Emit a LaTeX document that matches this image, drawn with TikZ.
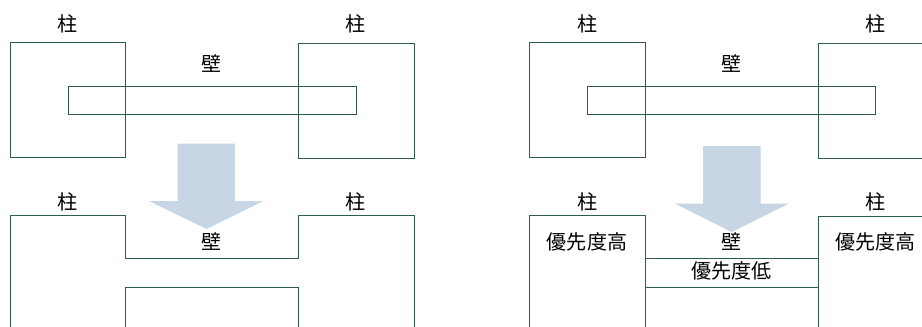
\documentclass[tikz,border=0pt]{standalone}
\usepackage{fontspec}
\newfontfamily\jpfont{Noto Sans CJK JP}
\definecolor{wallgreen}{HTML}{2F5D46}
\definecolor{arrowblue}{HTML}{C8D5E5}
\tikzset{
  outline/.style={draw=wallgreen,line width=0.55pt},
  bigarrow/.style={fill=arrowblue},
  lbl/.style={font=\jpfont\fontsize{11.4pt}{12pt}\selectfont}
}
\begin{document}
\begin{tikzpicture}[x=0.02cm,y=0.02cm]
\tikzstyle{every node}+=[inner sep=0pt]
\useasboundingbox (0,0) rectangle (922,-326);
\clip (0,0) rectangle (922,-326);
% left, before
\draw [outline] (10,-42.5) rectangle (125.5,-157);
\draw [outline] (298.5,-43.5) rectangle (414,-158);
\draw [outline] (68,-86) rectangle (356,-114);
\node [lbl] (pillarA) at (67.5,-24) {柱};
\node [lbl] (pillarB) at (356,-24) {柱};
\node [lbl] (wallA) at (212,-64) {壁};
% left, after
\draw [outline] (10,-330) -- (10,-215.5) -- (125.5,-215.5) -- (125.5,-258.5) -- (298.5,-258.5) -- (298.5,-215.5) -- (414,-215.5) -- (414,-330);
\draw [outline] (125.5,-330) -- (125.5,-287) -- (298.5,-287) -- (298.5,-330);
\fill [bigarrow] (177.5,-143.5) -- (235,-143.5) -- (235,-201) -- (263.5,-201) -- (206.5,-229) -- (149,-201) -- (177.5,-201) -- cycle;
\node [lbl] (pillarC) at (67.5,-202) {柱};
\node [lbl] (pillarD) at (356,-202) {柱};
\node [lbl] (wallB) at (212,-242) {壁};
% right, before
\draw [outline] (529.5,-42.5) rectangle (645,-157);
\draw [outline] (818,-43.5) rectangle (933.5,-158);
\draw [outline] (587.5,-86) rectangle (875.5,-114);
\node [lbl] (pillarE) at (587.5,-24) {柱};
\node [lbl] (pillarF) at (875.5,-24) {柱};
\node [lbl] (wallC) at (731.5,-64) {壁};
% right, after
\draw [outline] (529.5,-215.5) rectangle (645,-330);
\draw [outline] (818,-216.5) rectangle (933.5,-330);
\draw [outline] (645,-258.5) rectangle (818,-287);
\fill [bigarrow] (703,-146) -- (760.5,-146) -- (760.5,-203.5) -- (789,-203.5) -- (731.7,-232) -- (674.5,-203.5) -- (703,-203.5) -- cycle;
\node [lbl] (pillarG) at (587.5,-202) {柱};
\node [lbl] (pillarH) at (875.5,-202) {柱};
\node [lbl] (wallD) at (731.5,-242) {壁};
\node [lbl] (highA) at (587,-242) {優先度高};
\node [lbl] (highB) at (875.5,-242) {優先度高};
\node [lbl] (lowA) at (731.5,-271) {優先度低};
\end{tikzpicture}
\end{document}
